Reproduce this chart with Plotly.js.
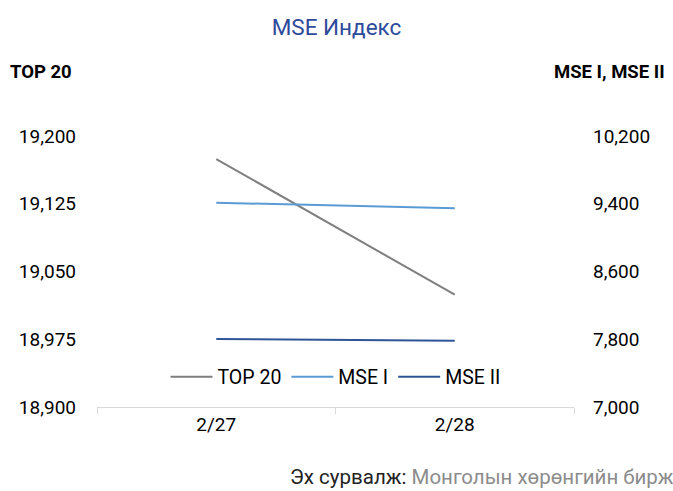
<!DOCTYPE html>
<html><head><meta charset="utf-8">
<script src="https://cdn.plot.ly/plotly-3.0.1.min.js"></script>
<style>html,body{margin:0;padding:0;background:#fff}#chart{width:673px;height:491px}</style>
</head><body><div id="chart"></div>
<script>
const categories = ['2/27', '2/28'];
const top20 = [19174.5, 19024.3];
const mse1 = [9412, 9346];
const mse2 = [7803, 7783];
const leftTicks = [18900, 18975, 19050, 19125, 19200];
const rightTicks = [7000, 7800, 8600, 9400, 10200];

const traces = [
  {x: categories, y: top20, name: 'TOP 20', type: 'scatter', mode: 'lines', line: {color: '#7f7f7f', width: 2}, yaxis: 'y'},
  {x: categories, y: mse1, name: 'MSE I', type: 'scatter', mode: 'lines', line: {color: '#5b9bd5', width: 2}, yaxis: 'y2'},
  {x: categories, y: mse2, name: 'MSE II', type: 'scatter', mode: 'lines', line: {color: '#2f5597', width: 2}, yaxis: 'y2'}
];
const fam = 'Roboto, sans-serif';
const layout = {
  width: 673, height: 491,
  margin: {l: 97, r: 99, t: 136, b: 84},
  paper_bgcolor: '#fff', plot_bgcolor: '#fff',
  font: {family: fam, size: 19, color: '#000'},
  title: {text: 'MSE Индекс', font: {family: fam, size: 22.5, color: '#2e4a9b'}, x: 0.5, xanchor: 'center', y: 0.945, yanchor: 'middle'},
  showlegend: true,
  legend: {orientation: 'h', x: 0.5, xanchor: 'center', y: 0.11, yanchor: 'middle', font: {family: fam, size: 19.5}, bgcolor: 'rgba(0,0,0,0)', itemwidth: 42, tracegroupgap: 0},
  xaxis: {type: 'category', range: [-0.5, 1.5], showgrid: false, showline: true, linecolor: '#d9d9d9', linewidth: 1,
    ticks: 'outside', tickson: 'boundaries', ticklen: 6, tickcolor: '#d9d9d9', tickfont: {family: fam, size: 19}, zeroline: false, fixedrange: true},
  yaxis: {range: [18900, 19200], tickvals: leftTicks, ticktext: leftTicks.map(v => v.toLocaleString('en-US')), showgrid: false, zeroline: false,
    showline: false, ticks: '', tickfont: {family: fam, size: 19}, ticklabelstandoff: 20},
  yaxis2: {range: [7000, 10200], tickvals: rightTicks, ticktext: rightTicks.map(v => v.toLocaleString('en-US')), overlaying: 'y', side: 'right',
    showgrid: false, zeroline: false, showline: false, ticks: '', tickfont: {family: fam, size: 19}, ticklabelstandoff: 18},
  annotations: [
    {text: '<b>TOP 20</b>', xref: 'paper', yref: 'paper', x: -0.187, xanchor: 'left', y: 1.236, yanchor: 'middle', showarrow: false, font: {family: fam, size: 18.5, color: '#000'}},
    {text: '<b>MSE I, MSE II</b>', xref: 'paper', yref: 'paper', x: 1.195, xanchor: 'right', y: 1.236, yanchor: 'middle', showarrow: false, font: {family: fam, size: 18.5, color: '#000'}},
    {text: 'Эх сурвалж: <span style="color:#8c8c8c">Монголын хөрөнгийн бирж</span>', xref: 'paper', yref: 'paper', x: 1.213, xanchor: 'right', y: -0.26, yanchor: 'middle', showarrow: false, font: {family: fam, size: 20.5, color: '#222'}}
  ]
};
Plotly.newPlot('chart', traces, layout, {displayModeBar: false, staticPlot: true});
</script></body></html>
